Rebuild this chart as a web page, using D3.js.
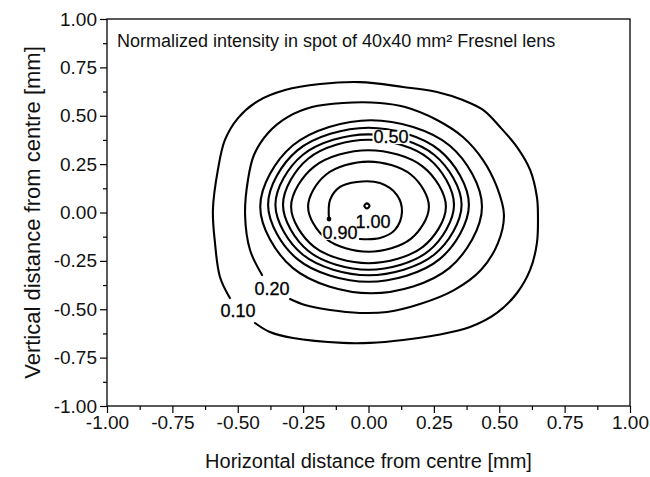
<!DOCTYPE html>
<html>
<head>
<meta charset="utf-8">
<script src="https://cdn.jsdelivr.net/npm/d3@7"></script>
<style>
  html, body { margin: 0; padding: 0; background: #fff; }
  svg { display: block; font-family: "Liberation Sans", Arial, sans-serif; }
</style>
</head>
<body>
<svg id="chart" width="650" height="477"></svg>
<script>
// ---- data ----
const xTicks = [-1.00, -0.75, -0.50, -0.25, 0.00, 0.25, 0.50, 0.75, 1.00];
const yTicks = [-1.00, -0.75, -0.50, -0.25, 0.00, 0.25, 0.50, 0.75, 1.00];
const minorTicks = [-0.875, -0.625, -0.375, -0.125, 0.125, 0.375, 0.625, 0.875];

const levels = ["0.10", "0.20", "0.30", "0.40", "0.50", "0.60", "0.70", "0.80", "0.90", "1.00"];

// contour outlines [horizontal mm, vertical mm]
const contour010 = [[-0.530,-0.442],[-0.568,-0.333],[-0.587,-0.158],[-0.595,0.013],[-0.576,0.220],[-0.549,0.375],
  [-0.499,0.488],[-0.423,0.576],[-0.319,0.633],[-0.185,0.664],[-0.033,0.674],
  [0.132,0.649],[0.262,0.623],[0.361,0.581],[0.438,0.530],[0.503,0.442],[0.568,0.338],[0.618,0.220],
  [0.644,0.080],[0.648,-0.013],[0.644,-0.158],[0.618,-0.297],[0.568,-0.416],[0.491,-0.519],[0.388,-0.592],
  [0.262,-0.633],[0.132,-0.659],[0.006,-0.674],[-0.098,-0.674],[-0.289,-0.649],[-0.377,-0.618],[-0.434,-0.571]];
const contour020 = [[-0.407,-0.323],[-0.453,-0.194],[-0.472,-0.013],[-0.461,0.168],[-0.438,0.297],[-0.384,0.411],
  [-0.308,0.494],[-0.216,0.545],[-0.098,0.566],[0.044,0.566],[0.140,0.545],[0.262,0.478],[0.361,0.390],
  [0.438,0.271],[0.491,0.132],[0.518,-0.013],[0.495,-0.158],[0.430,-0.297],[0.327,-0.401],[0.197,-0.473],
  [0.071,-0.514],[-0.033,-0.519],[-0.147,-0.504],[-0.243,-0.478],[-0.300,-0.447]];
const contour030 = [[-0.414,0.030],[-0.290,0.346],[0.010,0.477],[0.310,0.346],[0.434,0.030],[0.310,-0.286],[0.010,-0.417],[-0.290,-0.286]];
const contour040 = [[-0.384,0.040],[-0.272,0.321],[0.000,0.438],[0.272,0.321],[0.384,0.040],[0.272,-0.241],[0.000,-0.358],[-0.272,-0.241]];
const contour050 = [[-0.356,0.040],[-0.252,0.297],[0.000,0.404],[0.252,0.297],[0.356,0.040],[0.252,-0.217],[0.000,-0.324],[-0.252,-0.217]];
const contour060 = [[-0.327,0.040],[-0.231,0.278],[0.000,0.376],[0.231,0.278],[0.327,0.040],[0.231,-0.198],[0.000,-0.296],[-0.231,-0.198]];
const contour070 = [[-0.296,0.030],[-0.209,0.236],[0.000,0.322],[0.209,0.236],[0.296,0.030],[0.209,-0.176],[0.000,-0.262],[-0.209,-0.176]];
const contour080 = [[-0.231,0.030],[-0.163,0.195],[0.000,0.263],[0.163,0.195],[0.231,0.030],[0.163,-0.135],[0.000,-0.203],[-0.163,-0.135]];
const contour090 = [[-0.151,-0.034],[-0.147,0.065],[-0.109,0.132],[-0.044,0.158],[0.044,0.152],[0.109,0.090],
  [0.128,0.003],[0.101,-0.090],[0.044,-0.132],[-0.033,-0.137]];
const contour100 = [[-0.016,0.034],[-0.006,0.047],[0.004,0.034],[-0.006,0.021]];

const contours = [contour010, contour020, contour030, contour040, contour050, contour060, contour070, contour080, contour090, contour100];
const closedFlags = [false, false, true, true, true, true, true, true, false, true];

// label anchor positions (mm)
const labelText = ["0.10", "0.20", "0.50", "0.90", "1.00"];
const labelX = [-0.499, -0.369, 0.086, -0.109, 0.017];
const labelY = [-0.509, -0.395, 0.390, -0.106, -0.049];

const titleText = "Normalized intensity in spot of 40x40 mm\u00B2 Fresnel lens";
const xTitle = "Horizontal distance from centre [mm]";
const yTitle = "Vertical distance from centre [mm]";

// ---- layout ----
const svg = d3.select("#chart");
const L = 107, R = 630, T = 19, B = 406;
const x = d3.scaleLinear().domain([-1, 1]).range([L, R]);
const y = d3.scaleLinear().domain([-1, 1]).range([B, T]);
const fmt = d => d.toFixed(2);

// axes
svg.append("g").attr("transform", `translate(0,${B})`)
  .call(d3.axisBottom(x).tickValues(xTicks).tickFormat(fmt).tickSize(7).tickPadding(3));
svg.append("g").attr("transform", `translate(0,${B})`)
  .call(d3.axisBottom(x).tickValues(minorTicks).tickFormat("").tickSize(4));
svg.append("g").attr("transform", `translate(${L},0)`)
  .call(d3.axisLeft(y).tickValues(yTicks).tickFormat(fmt).tickSize(7).tickPadding(3));
svg.append("g").attr("transform", `translate(${L},0)`)
  .call(d3.axisLeft(y).tickValues(minorTicks).tickFormat("").tickSize(4));
svg.selectAll(".domain").remove();
svg.selectAll(".tick line").attr("stroke", "#000").attr("stroke-width", 1.2);
svg.selectAll(".tick text").attr("font-size", 19).attr("fill", "#111")
  .attr("font-family", "Liberation Sans, Arial, sans-serif");

// frame
svg.append("rect").attr("x", L).attr("y", T).attr("width", R - L).attr("height", B - T)
  .attr("fill", "none").attr("stroke", "#000").attr("stroke-width", 1.3);

// contours
const lineOpen = d3.line().x(d => x(d[0])).y(d => y(d[1])).curve(d3.curveCatmullRom);
const lineClosed = d3.line().x(d => x(d[0])).y(d => y(d[1])).curve(d3.curveCatmullRomClosed);
svg.append("g").selectAll("path").data(contours).join("path")
  .attr("d", (d, i) => closedFlags[i] ? lineClosed(d) : lineOpen(d))
  .attr("fill", "none").attr("stroke", "#000").attr("stroke-width", 2.1)
  .attr("stroke-linejoin", "round").attr("stroke-linecap", "round");

// dot at start of 0.90 contour
svg.append("circle").attr("cx", x(contour090[0][0])).attr("cy", y(contour090[0][1])).attr("r", 2.4).attr("fill", "#000");

// contour labels
const lg = svg.append("g");
labelText.forEach((t, i) => {
  const tx = lg.append("text").attr("x", x(labelX[i])).attr("y", y(labelY[i]))
    .attr("text-anchor", "middle").attr("dominant-baseline", "central")
    .attr("font-size", 18).attr("fill", "#000").attr("stroke", "#000").attr("stroke-width", 0.3).text(t);
  const bb = tx.node().getBBox();
  lg.insert("rect", "text").attr("x", bb.x - 1).attr("y", bb.y + 3).attr("width", bb.width + 2).attr("height", bb.height - 6)
    .attr("fill", "#fff");
});

// inner title
svg.append("text").attr("x", 117).attr("y", 47).attr("font-size", 18).attr("fill", "#111").text(titleText);

// axis titles
svg.append("text").attr("x", (L + R) / 2).attr("y", 468).attr("text-anchor", "middle")
  .attr("font-size", 20).attr("fill", "#111").text(xTitle);
svg.append("text").attr("transform", `translate(40,${(T + B) / 2}) rotate(-90)`).attr("text-anchor", "middle")
  .attr("font-size", 22).attr("fill", "#111").text(yTitle);
</script>
</body>
</html>
